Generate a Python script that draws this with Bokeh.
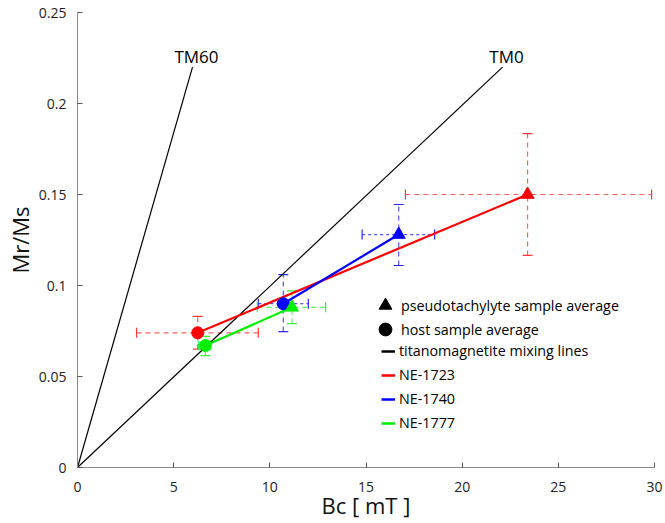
from bokeh.plotting import figure
from bokeh.models import (ColumnDataSource, Whisker, TeeHead, Legend, LegendItem,
                          FixedTicker, CustomJSTickFormatter, Range1d)
from bokeh.core.properties import value
from bokeh.embed import file_html
from bokeh.resources import INLINE

# ---- data ----
tm_labels = ["TM60", "TM0"]
tm_bc_end = [5.98, 22.1]
tm_mrms_end = [0.22, 0.22]

samples = ["NE-1723", "NE-1740", "NE-1777"]
colors = ["#ff0000", "#0000ff", "#00ee00"]
bar_colors = ["#ff3838", "#2828ff", "#38ee38"]

host_bc = [6.25, 10.7, 6.65]
host_mrms = [0.074, 0.090, 0.067]
host_bc_lo = [3.07, 9.4, 6.3]
host_bc_hi = [9.4, 12.0, 6.9]
host_mrms_lo = [0.065, 0.0747, 0.0615]
host_mrms_hi = [0.083, 0.106, 0.072]

pt_bc = [23.4, 16.7, 11.15]
pt_mrms = [0.150, 0.128, 0.088]
pt_bc_lo = [17.05, 14.8, 9.35]
pt_bc_hi = [29.85, 18.57, 12.9]
pt_mrms_lo = [0.1165, 0.111, 0.079]
pt_mrms_hi = [0.1835, 0.1445, 0.097]

x_ticks = [0, 5, 10, 15, 20, 25, 30]
y_ticks = [0, 0.05, 0.1, 0.15, 0.2, 0.25]
x_title = "Bc [ mT ]"
y_title = "Mr/Ms"

FONT = "Open Sans"
NAN = float("nan")

p = figure(width=664, height=522, output_backend="svg", toolbar_location=None,
           x_range=Range1d(0, 30), y_range=Range1d(0, 0.25),
           min_border_left=77, min_border_right=10, min_border_top=12, min_border_bottom=55)
p.frame_width = 577
p.frame_height = 455
p.outline_line_color = None
p.grid.visible = False
p.background_fill_color = "white"

for ax in (p.xaxis[0], p.yaxis[0]):
    ax.axis_line_color = "#888888"
    ax.major_tick_line_color = "#555555"
    ax.major_tick_in = 5
    ax.major_tick_out = 0
    ax.minor_tick_line_color = None
    ax.major_label_text_font = FONT
    ax.major_label_text_font_size = "14px"
    ax.major_label_text_color = "#222222"
    ax.axis_label_text_font = FONT
    ax.axis_label_text_font_size = "22px"
    ax.axis_label_text_font_style = "normal"
    ax.axis_label_text_color = "#111111"

p.xaxis.ticker = FixedTicker(ticks=x_ticks)
p.yaxis.ticker = FixedTicker(ticks=y_ticks)
fmt = CustomJSTickFormatter(code="return String(Math.round(tick*100)/100);")
p.xaxis.formatter = fmt
p.yaxis.formatter = fmt
p.xaxis.axis_label = x_title
p.yaxis.axis_label = y_title
p.xaxis.major_label_standoff = 14
p.xaxis.axis_label_standoff = -5
p.yaxis.major_label_standoff = 11
p.yaxis.axis_label_standoff = 1

# titanomagnetite mixing lines
for xe, ye in zip(tm_bc_end, tm_mrms_end):
    p.line([0, xe], [0, ye], line_color="black", line_width=1.2)
p.text(x=tm_bc_end, y=tm_mrms_end, text=tm_labels, text_font=value(FONT),
       text_font_size="17px", text_align="center", text_baseline="bottom",
       x_offset=4, y_offset=1, text_color="black")

# error bars
for i in range(3):
    bc = bar_colors[i]
    src = ColumnDataSource(dict(
        x=[host_bc[i], pt_bc[i]], y=[host_mrms[i], pt_mrms[i]],
        xl=[host_bc_lo[i], pt_bc_lo[i]], xu=[host_bc_hi[i], pt_bc_hi[i]],
        yl=[host_mrms_lo[i], pt_mrms_lo[i]], yu=[host_mrms_hi[i], pt_mrms_hi[i]]))
    hdash = "3 3" if i == 1 else "5 4"
    wx = Whisker(source=src, base="y", lower="xl", upper="xu", dimension="width",
                 line_color=bc, line_dash=hdash, line_width=1.2, line_alpha=0.8,
                 upper_head=TeeHead(size=10, line_color=bc, line_width=1.2),
                 lower_head=TeeHead(size=10, line_color=bc, line_width=1.2))
    wy = Whisker(source=src, base="x", lower="yl", upper="yu", dimension="height",
                 line_color=bc, line_dash="5 4", line_width=1.2, line_alpha=0.8,
                 upper_head=TeeHead(size=10, line_color=bc, line_width=1.2),
                 lower_head=TeeHead(size=10, line_color=bc, line_width=1.2))
    p.add_layout(wx)
    p.add_layout(wy)

# connecting lines
for i in range(3):
    p.line([host_bc[i], pt_bc[i]], [host_mrms[i], pt_mrms[i]],
           line_color=colors[i], line_width=2.2)

# markers
for i in range(3):
    p.scatter([host_bc[i]], [host_mrms[i]], marker="circle", size=12,
              fill_color=colors[i], line_color=colors[i])
    p.scatter([pt_bc[i]], [pt_mrms[i]], marker="triangle", size=13,
              fill_color=colors[i], line_color=colors[i])

# legend proxies (not drawn: NaN positions)
tri_proxy = p.scatter([NAN], [NAN], marker="triangle", size=14, fill_color="black", line_color="black")
circ_proxy = p.scatter([NAN], [NAN], marker="circle", size=14, fill_color="black", line_color="black")
tm_proxy = p.line([NAN, NAN], [NAN, NAN], line_color="black", line_width=2.5)
s_proxies = [p.line([NAN, NAN], [NAN, NAN], line_color=c, line_width=2.5) for c in colors]

common = dict(background_fill_alpha=0, border_line_color=None, padding=0, margin=0,
              label_text_font=FONT, label_text_font_size="14.3px", label_text_color="black")

# marker entries: larger glyph boxes so the icons are as large as in the original
for label, r, loc in [("pseudotachylyte sample average", tri_proxy, (292, 146)),
                      ("host sample average", circ_proxy, (292, 122))]:
    lg = Legend(items=[LegendItem(label=label, renderers=[r])], location=loc,
                glyph_width=32, glyph_height=32, label_standoff=0, spacing=0, **common)
    p.add_layout(lg)

line_items = [LegendItem(label="titanomagnetite mixing lines", renderers=[tm_proxy])]
for s, r in zip(samples, s_proxies):
    line_items.append(LegendItem(label=s, renderers=[r]))
legend = Legend(items=line_items, location=(304, 35), spacing=5,
                glyph_width=14, glyph_height=14, label_height=14, label_standoff=4, **common)
p.add_layout(legend)

open("out.html", "w").write(file_html(p, INLINE))
